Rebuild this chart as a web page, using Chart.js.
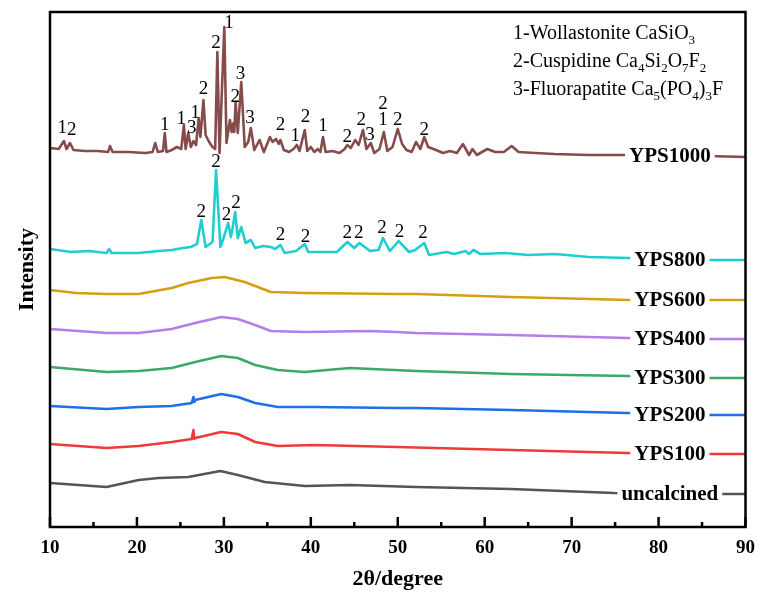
<!DOCTYPE html>
<html lang="en">
  <head>
    <meta charset="utf-8">
    <title>XRD</title>
    <script src="https://cdn.jsdelivr.net/npm/chart.js@4.4.1/dist/chart.umd.min.js"></script>
    <style>
      body{
        margin: 0;
        background-color: #fff;
      }
    </style>
  </head>
  <body>
    <canvas id="xrdChart" width="765" height="605"></canvas>
    <script>
      // 2theta (deg), intensity (arb., stacked offsets)
      const yps1000 = [[10.0,379],[11.0,378],[11.6,386],[11.9,378],[12.3,384],[12.7,377],[14.0,376],[15.5,376],[16.7,375],[16.9,381],[17.2,375],[19.0,375],[21.0,374],[21.8,375],[22.1,384],[22.4,375],[23.0,376],[23.2,394],[23.4,375],[24.0,377],[24.6,380],[25.1,378],[25.4,402],[25.6,378],[25.9,394],[26.2,380],[26.5,386],[26.8,382],[27.1,409],[27.3,390],[27.65,427],[27.9,392],[28.3,385],[28.7,380],[29.0,378],[29.25,475],[29.5,374],[30.05,500],[30.3,384],[30.7,407],[30.9,395],[31.1,404],[31.2,395],[31.35,425],[31.6,394],[32.0,445],[32.4,380],[32.8,385],[33.1,399],[33.5,377],[34.1,387],[34.6,375],[35.3,390],[35.6,385],[36.0,388],[36.3,383],[36.5,387],[36.9,377],[37.5,375],[38.0,378],[38.4,382],[38.7,376],[39.3,397],[39.6,376],[40.0,380],[40.4,375],[40.8,378],[41.1,375],[41.4,390],[41.7,375],[42.5,376],[43.3,374],[43.9,378],[44.2,382],[44.6,379],[45.1,387],[45.5,382],[46.0,397],[46.4,378],[46.9,384],[47.3,374],[47.9,378],[48.4,395],[48.8,376],[49.4,380],[50.0,398],[50.5,383],[51.0,377],[51.6,375],[52.1,385],[52.6,378],[53.05,390],[53.5,380],[54.4,377],[55.2,374],[56.0,376],[56.8,374],[57.5,383],[58.2,372],[58.6,378],[59.1,372],[60.3,378],[61.2,375],[62.2,375],[63.1,381],[63.9,375],[65.8,374],[68.0,373],[72.0,372],[76.6,372],[80.0,371],[85.6,371],[90.0,370]];
      const yps800 = [[10.0,278],[12.4,275],[14.5,276],[16.5,274],[16.8,278],[17.1,274],[20.2,274],[22.5,276],[24.0,277],[25.3,279],[26.2,280],[26.9,283],[27.4,307],[27.9,280],[28.7,285],[29.1,357],[29.6,280],[30.0,290],[30.5,304],[30.8,290],[31.0,299],[31.3,315],[31.6,289],[32.0,300],[32.5,284],[33.1,287],[33.6,279],[34.5,281],[35.4,280],[35.9,278],[36.5,282],[37.0,274],[38.3,276],[39.3,283],[39.7,275],[43.0,275],[44.2,285],[45.0,279],[45.6,284],[46.8,276],[47.8,277],[48.3,289],[49.1,276],[50.1,286],[51.3,275],[52.0,277],[53.05,284],[53.6,272],[55.6,275],[56.5,273],[57.8,276],[58.2,273],[58.7,277],[59.5,273],[62.4,274],[65.0,272],[68.1,273],[72.0,270],[76.6,269],[80.0,268],[85.6,267],[90.0,267]];
      const yps600 = [[10.0,237],[13.0,234],[16.5,233],[20.2,233],[24.0,239],[25.9,244],[28.6,249],[30.1,250],[32.4,245],[33.9,240],[35.4,235],[39.3,234],[49.9,233],[52.1,233],[63.0,230],[76.6,227],[85.6,227],[90.0,227]];
      const yps400 = [[10.0,198],[16.5,194],[20.2,194],[24.0,198],[26.7,204],[29.7,210],[31.6,208],[33.6,202],[35.4,196],[39.3,195],[46.8,196],[49.9,195],[52.1,194],[63.0,192],[76.4,189],[85.6,188],[90.0,188]];
      const yps300 = [[10.0,160],[16.5,155],[20.2,156],[24.0,159],[26.7,165],[29.7,171],[31.6,169],[33.6,162],[36.2,157],[39.3,155],[44.5,159],[52.1,156],[63.0,153],[76.4,151],[85.6,149],[90.0,149]];
      const yps200 = [[10.0,121],[16.5,118],[20.2,120],[24.0,121],[26.3,124],[26.5,130],[26.6,125],[26.7,127],[29.7,133],[31.6,130],[33.6,124],[36.2,120],[40.4,120],[49.9,119],[52.1,119],[63.0,117],[76.4,114],[85.6,112],[90.0,112]];
      const yps100 = [[10.0,83],[16.5,79],[20.2,81],[24.0,85],[26.3,88],[26.5,97],[26.6,88],[26.7,89],[29.7,95],[31.6,93],[33.6,85],[36.2,81],[40.4,82],[49.9,80],[63.0,77],[76.4,74],[85.6,73],[90.0,73]];
      const uncalcined = [[10.0,44],[16.5,40],[20.2,47],[22.5,49],[25.9,50],[29.6,56],[31.6,52],[34.7,45],[39.3,41],[44.5,42],[52.1,40],[63.0,38],[74.9,34],[85.6,33],[90.0,33]];

      const seriesNames = ["YPS1000", "YPS800", "YPS600", "YPS400", "YPS300", "YPS200", "YPS100", "uncalcined"];
      const seriesData = [yps1000, yps800, yps600, yps400, yps300, yps200, yps100, uncalcined];
      const seriesColors = ["#864c4c", "#1fcfd0", "#d4a010", "#b57ee8", "#3aaa66", "#1e6fe8", "#f03a3a", "#555555"];

      // peak markers: [2theta, label height, phase number]
      const peaks1000 = [[11.4,399,"1"],[12.5,397,"2"],[23.2,402,"1"],[25.1,408,"1"],[26.3,399,"3"],[26.7,414,"1"],[27.65,438,"2"],[29.1,484,"2"],[30.6,504,"1"],[31.3,430,"2"],[31.9,453,"3"],[33.0,409,"3"],[36.5,402,"2"],[38.2,391,"1"],[39.4,410,"2"],[41.4,401,"1"],[44.2,390,"2"],[45.8,407,"2"],[46.8,392,"3"],[48.3,423,"2"],[48.3,407,"1"],[50.0,407,"2"],[53.05,397,"2"]];
      const peaks800 = [[27.4,315,"2"],[29.1,365,"2"],[30.3,312,"2"],[31.4,324,"2"],[36.5,292,"2"],[39.4,290,"2"],[44.2,294,"2"],[45.5,294,"2"],[48.2,299,"2"],[50.2,295,"2"],[52.9,294,"2"]];

      const phaseLegend = ["1-Wollastonite CaSiO_3", "2-Cuspidine Ca_4Si_2O_7F_2", "3-Fluorapatite Ca_5(PO_4)_3F"];
      const xTicks = { min: 10, max: 90, step: 10 };
      const labelAt = 81.3;

      const serif = '"Liberation Serif", "Times New Roman", serif';

      // "_" marks the next char as subscript
      function drawRich(ctx, str, x, y, size) {
        let cx = x;
        let i = 0;
        while (i < str.length) {
          let sub = str[i] === "_";
          let run = "";
          if (sub) { run = str[i + 1]; i += 2; }
          else {
            while (i < str.length && str[i] !== "_") { run += str[i]; i++; }
          }
          ctx.font = (sub ? Math.round(size * 0.65) : size) + "px " + serif;
          ctx.fillText(run, cx, sub ? y + size * 0.25 : y);
          cx += ctx.measureText(run).width;
        }
      }

      const decor = {
        id: "decor",
        beforeDraw(chart) {
          const ctx = chart.ctx;
          ctx.save();
          ctx.fillStyle = "#fff";
          ctx.fillRect(0, 0, chart.width, chart.height);
          ctx.restore();
        },
        afterDatasetsDraw(chart) {
          const ctx = chart.ctx;
          const xs = chart.scales.x, ys = chart.scales.y;
          ctx.save();
          // series names sitting on their own traces
          ctx.font = "bold 21px " + serif;
          ctx.textAlign = "center";
          ctx.textBaseline = "middle";
          seriesNames.forEach((name, i) => {
            const d = seriesData[i];
            const px = xs.getPixelForValue(labelAt);
            const py = ys.getPixelForValue(d[d.length - 2][1]);
            const w = ctx.measureText(name).width + 8;
            ctx.fillStyle = "#fff";
            ctx.fillRect(px - w / 2, py - 9, w, 18);
            ctx.fillStyle = "#000";
            ctx.fillText(name, px, py + 1);
          });
          // peak phase numbers
          ctx.font = "19px " + serif;
          peaks1000.concat(peaks800).forEach(([t, h, lbl]) => {
            ctx.fillText(lbl, xs.getPixelForValue(t), ys.getPixelForValue(h));
          });
          // phase legend
          ctx.textAlign = "left";
          ctx.textBaseline = "alphabetic";
          ctx.fillStyle = "#000";
          phaseLegend.forEach((line, i) => {
            drawRich(ctx, line, 513, 39 + i * 28, 20);
          });
          ctx.restore();
        },
        afterDraw(chart) {
          const ctx = chart.ctx;
          const a = chart.chartArea;
          const xs = chart.scales.x;
          ctx.save();
          ctx.strokeStyle = "#000";
          ctx.lineWidth = 2.5;
          // inward ticks on bottom axis
          const ticks = xs.ticks.map(t => t.value);
          ctx.beginPath();
          ticks.forEach((v, i) => {
            const px = xs.getPixelForValue(v);
            ctx.moveTo(px, a.bottom);
            ctx.lineTo(px, a.bottom - 10);
            if (i < ticks.length - 1) {
              const mx = xs.getPixelForValue((v + ticks[i + 1]) / 2);
              ctx.moveTo(mx, a.bottom);
              ctx.lineTo(mx, a.bottom - 5);
            }
          });
          ctx.stroke();
          ctx.strokeRect(a.left, a.top, a.right - a.left, a.bottom - a.top);
          ctx.restore();
        }
      };

      const ctx = document.getElementById("xrdChart").getContext("2d");
      const xrdChart = new Chart(ctx, {
        type: "line",
        data: {
          datasets: seriesNames.map((name, i) => ({
            label: name,
            data: seriesData[i].map(([x, y]) => ({ x: x, y: y })),
            borderColor: seriesColors[i],
            borderWidth: 2.6,
            borderJoinStyle: "round",
            borderCapStyle: "round",
            pointRadius: 0,
            tension: 0,
            fill: false
          }))
        },
        options: {
          responsive: false,
          animation: false,
          layout: {
            padding: { left: 0, top: 12, right: 12, bottom: 0 }
          },
          plugins: {
            legend: { display: false },
            tooltip: { enabled: false }
          },
          scales: {
            x: {
              type: "linear",
              min: xTicks.min,
              max: xTicks.max,
              grid: { display: false, drawTicks: false },
              border: { display: false },
              ticks: {
                stepSize: xTicks.step,
                color: "#000",
                padding: 10,
                font: { family: serif, size: 19, weight: "bold" }
              },
              title: {
                display: true,
                text: "2θ/degree",
                color: "#000",
                padding: { top: 0, bottom: 12 },
                font: { family: serif, size: 22, weight: "bold" }
              },
              afterFit: s => { s.height = 78; }
            },
            y: {
              min: 0,
              max: 515,
              grid: { display: false, drawTicks: false },
              border: { display: false },
              ticks: { display: false },
              title: {
                display: true,
                text: "Intensity",
                color: "#000",
                padding: { top: 14, bottom: 0 },
                font: { family: serif, size: 22, weight: "bold" }
              },
              afterFit: s => { s.width = 50; }
            }
          }
        },
        plugins: [decor]
      });
    </script>
  </body>
</html>
